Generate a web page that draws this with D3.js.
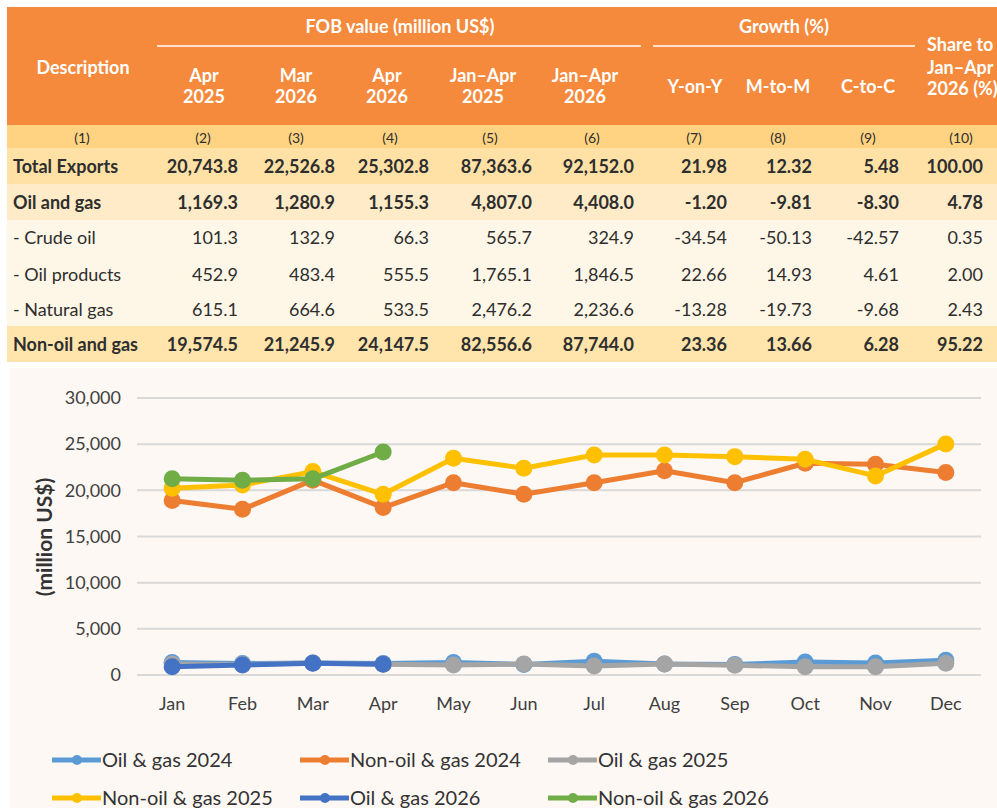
<!DOCTYPE html>
<html><head><meta charset="utf-8">
<script src="https://cdn.jsdelivr.net/npm/d3@7"></script>
<style>
body{margin:0;background:#fff;}
svg{display:block;font-family:Lato,"Open Sans",sans-serif;}
</style></head>
<body><svg id="c" width="997" height="808"></svg>
<script>
// ---------- table data ----------
const tableRows = ["Total Exports","Oil and gas","- Crude oil","- Oil products","- Natural gas","Non-oil and gas"];
const fobApr2025 = [20743.8,1169.3,101.3,452.9,615.1,19574.5];
const fobMar2026 = [22526.8,1280.9,132.9,483.4,664.6,21245.9];
const fobApr2026 = [25302.8,1155.3,66.3,555.5,533.5,24147.5];
const fobJanApr2025 = [87363.6,4807.0,565.7,1765.1,2476.2,82556.6];
const fobJanApr2026 = [92152.0,4408.0,324.9,1846.5,2236.6,87744.0];
const growthYoY = [21.98,-1.20,-34.54,22.66,-13.28,23.36];
const growthMtM = [12.32,-9.81,-50.13,14.93,-19.73,13.66];
const growthCtC = [5.48,-8.30,-42.57,4.61,-9.68,6.28];
const shareJanApr2026 = [100.00,4.78,0.35,2.00,2.43,95.22];
const colHeaders = [["Apr","2025"],["Mar","2026"],["Apr","2026"],["Jan\u2013Apr","2025"],["Jan\u2013Apr","2026"],["Y-on-Y"],["M-to-M"],["C-to-C"]];
const colNumbers = ["(1)","(2)","(3)","(4)","(5)","(6)","(7)","(8)","(9)","(10)"];

// ---------- chart data ----------
const months = ["Jan","Feb","Mar","Apr","May","Jun","Jul","Aug","Sep","Oct","Nov","Dec"];
const yTicks = [0,5000,10000,15000,20000,25000,30000];
const oilGas2024 = [1350,1250,1300,1250,1350,1150,1500,1200,1150,1400,1300,1600];
const nonOilGas2024 = [18900,17950,21100,18130,20830,19580,20830,22130,20830,22930,22830,21920];
const oilGas2025 = [1200,1150,1290,1169.3,1080,1190,980,1190,1050,900,900,1270];
const nonOilGas2025 = [20230,20580,22030,19574.5,23480,22390,23830,23830,23650,23360,21560,25030];
const oilGas2026 = [900,1072,1280.9,1155.3];
const nonOilGas2026 = [21250,21100,21245.9,24147.5];
const seriesNames = ["Oil & gas 2024","Non-oil & gas 2024","Oil & gas 2025","Non-oil & gas 2025","Oil & gas 2026","Non-oil & gas 2026"];
const seriesColors = ["#5B9BD5","#ED7D31","#A5A5A5","#FFC000","#4472C4","#70AD47"];
const seriesValues = [oilGas2024,nonOilGas2024,oilGas2025,nonOilGas2025,oilGas2026,nonOilGas2026];

const svg = d3.select("#c");
const txt = "#2e2e2e";
const loc = d3.formatLocale({decimal:".",thousands:",",grouping:[3],currency:["$",""],minus:"-"});
const f1 = loc.format(",.1f"), f2 = loc.format(".2f");

// ---------- table ----------
const T = svg.append("g");
const bands = [
  {y0:7,y1:125,c:"#F5893C"},
  {y0:125,y1:148,c:"#FFD382"},
  {y0:148,y1:184,c:"#FFE1A6"},
  {y0:184,y1:220,c:"#FFEBC7"},
  {y0:220,y1:326,c:"#FEF7E7"},
  {y0:326,y1:362,c:"#FFE4AC"}
];
T.selectAll("rect.band").data(bands).join("rect")
  .attr("x",7).attr("width",990).attr("y",d=>d.y0).attr("height",d=>d.y1-d.y0).attr("fill",d=>d.c);

const H = T.append("g").attr("fill","#fff").attr("font-weight","bold").attr("font-size",18);
H.append("text").attr("x",83).attr("y",74).attr("text-anchor","middle").text("Description");
H.append("text").attr("x",400).attr("y",33).attr("text-anchor","middle").text("FOB value (million US$)");
H.append("text").attr("x",784).attr("y",33).attr("text-anchor","middle").text("Growth (%)");
T.append("line").attr("x1",157).attr("x2",641).attr("y1",46).attr("y2",46).attr("stroke","#fff").attr("stroke-width",1.5);
T.append("line").attr("x1",653).attr("x2",915).attr("y1",46).attr("y2",46).attr("stroke","#fff").attr("stroke-width",1.5);
const headCenters = [204,296,387,483,585,695,778,868];
colHeaders.forEach((lines,i)=>{
  const t = H.append("text").attr("text-anchor","middle");
  if(lines.length===2){
    t.append("tspan").attr("x",headCenters[i]).attr("y",82).text(lines[0]);
    t.append("tspan").attr("x",headCenters[i]).attr("y",103).text(lines[1]);
  } else {
    t.append("tspan").attr("x",headCenters[i]).attr("y",93).text(lines[0]);
  }
});
const sh = H.append("text");
[["Share to",51],["Jan\u2013Apr",74],["2026 (%)",95]].forEach(l=>sh.append("tspan").attr("x",927).attr("y",l[1]).text(l[0]));

const numCenters = [82,203,296,390,490,592,694,778,868,961];
T.append("g").selectAll("text").data(colNumbers).join("text")
  .attr("x",(d,i)=>numCenters[i]).attr("y",143).attr("text-anchor","middle")
  .attr("font-size",14).attr("fill",txt).text(d=>d);

const rowCenters = [167,203,238,275,310,345];
const rightEdges = [238,335,429,532,634,727,812,899,983];
const cols = [fobApr2025,fobMar2026,fobApr2026,fobJanApr2025,fobJanApr2026,growthYoY,growthMtM,growthCtC,shareJanApr2026];
const boldRows = [0,1,5];
tableRows.forEach((name,r)=>{
  const g = T.append("g").attr("font-size",18).attr("fill",txt)
    .attr("font-weight",boldRows.includes(r)?"bold":"normal");
  g.append("text").attr("x",13).attr("y",rowCenters[r]+6).text(name);
  cols.forEach((col,c)=>{
    g.append("text").attr("x",rightEdges[c]).attr("y",rowCenters[r]+6).attr("text-anchor","end")
      .text(c<5?f1(col[r]):f2(col[r]));
  });
});

// ---------- chart ----------
svg.append("rect").attr("x",10).attr("y",368).attr("width",987).attr("height",440).attr("fill","#FDF8F4");
const x = d3.scaleBand().domain(months).range([137,981]);
const y = d3.scaleLinear().domain([0,30000]).range([675,398]);

const grid = svg.append("g");
grid.selectAll("line").data(yTicks).join("line")
  .attr("x1",137).attr("x2",981).attr("y1",d=>y(d)).attr("y2",d=>y(d))
  .attr("stroke","#D9D9D9").attr("stroke-width",2);

const yAxis = svg.append("g").attr("transform","translate(137,0)")
  .call(d3.axisLeft(y).tickValues(yTicks).tickFormat(d3.format(",")).tickSize(0).tickPadding(16));
yAxis.select(".domain").remove();
yAxis.selectAll("text").attr("font-size",18).attr("fill","#404040").attr("font-family","Lato");

const xAxis = svg.append("g").attr("transform","translate(0,675)")
  .call(d3.axisBottom(x).tickSize(0).tickPadding(22));
xAxis.select(".domain").remove();
xAxis.selectAll("text").attr("font-size",18).attr("fill","#404040").attr("font-family","Lato");

svg.append("text").attr("transform","translate(52,537) rotate(-90)").attr("text-anchor","middle")
  .attr("font-size",21).attr("font-weight","bold").attr("fill","#333").text("(million US$)");

const line = d3.line().x((d,i)=>x(months[i])+x.bandwidth()/2).y(d=>y(d));
seriesValues.forEach((vals,s)=>{
  const g = svg.append("g");
  g.append("path").attr("d",line(vals)).attr("fill","none").attr("stroke",seriesColors[s])
    .attr("stroke-width",5).attr("stroke-linejoin","round");
  g.selectAll("circle").data(vals).join("circle")
    .attr("cx",(d,i)=>x(months[i])+x.bandwidth()/2).attr("cy",d=>y(d)).attr("r",8.5)
    .attr("fill",seriesColors[s]);
});

// ---------- legend ----------
const legX = [52,300,548], legY = [760,798];
seriesNames.forEach((n,i)=>{
  const lx = legX[i%3], ly = legY[Math.floor(i/3)];
  const g = svg.append("g");
  g.append("line").attr("x1",lx).attr("x2",lx+49).attr("y1",ly).attr("y2",ly)
    .attr("stroke",seriesColors[i]).attr("stroke-width",5);
  g.append("circle").attr("cx",lx+25).attr("cy",ly).attr("r",5).attr("fill",seriesColors[i]);
  g.append("text").attr("x",lx+50).attr("y",ly+7).attr("font-size",20).attr("fill","#333").text(n);
});
</script></body></html>
